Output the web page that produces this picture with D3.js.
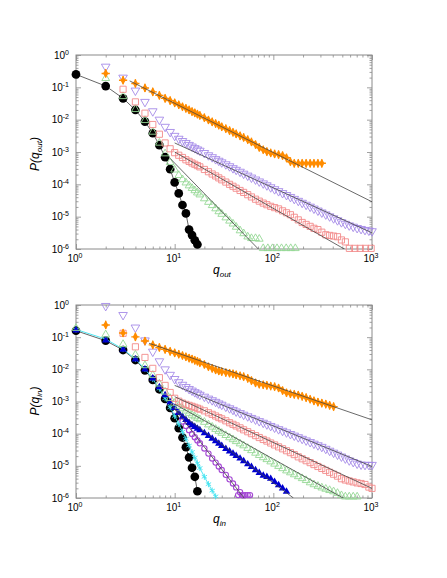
<!DOCTYPE html>
<html><head><meta charset="utf-8">
<script src="https://cdn.jsdelivr.net/npm/d3@7"></script>
<style>body{margin:0;background:#fff}</style>
</head><body><svg id="c" width="447" height="578"></svg>
<script>
// ---- shared degree bins (q values) ----
const qBins = [1,2,3,4,5,6,7,8,9,10,11,12,13,14,15,16,17,18,20,22,24,26,28,30,33,36,39,42,46,50,55,60,66,72,79,86,94,103,113,124,136,149,163,179,196,215,236,258,283,310,340,372,408,447,490,537,588,645,707,775,849,930,1000];
const xTickExps = [0,1,2,3];
const yTickExps = [0,-1,-2,-3,-4,-5,-6];

// ---- TOP panel: P(q_out), values are log10 P, starting at q0 ----
const outBlackQ0 = 1;
const outBlackLogP = [-0.60,-0.96,-1.34,-1.70,-2.06,-2.42,-2.79,-3.16,-3.53,-3.94,-4.28,-4.64,-4.90,-5.40,-5.57,-5.73,-5.86];
const outGreenQ0 = 2;
const outGreenLogP = [-0.72,-1.28,-1.68,-2.02,-2.38,-2.72,-3.05,-3.32,-3.55,-3.72,-3.85,-3.95,-4.04,-4.12,-4.19,-4.26,-4.32,-4.44,-4.55,-4.65,-4.75,-4.84,-4.92,-5.03,-5.13,-5.22,-5.32,-5.43,-5.52,-5.62,-5.67,-5.67,-5.69];
const outGreenTailQ = [79,88,98,109,121,135,150,167];
const outGreenTailLogP = [-5.98,-5.98,-5.98,-5.98,-5.98,-5.98,-5.98,-5.98];
const outRedQ0 = 3;
const outRedLogP = [-1.06,-1.45,-1.80,-2.15,-2.45,-2.72,-2.90,-3.02,-3.10,-3.17,-3.24,-3.29,-3.34,-3.38,-3.42,-3.46,-3.54,-3.61,-3.68,-3.74,-3.80,-3.86,-3.93,-4.00,-4.06,-4.12,-4.19,-4.25,-4.32,-4.39,-4.46,-4.52,-4.58,-4.63,-4.68,-4.72,-4.76,-4.82,-4.88,-4.94,-5.02,-5.10,-5.18,-5.24,-5.30,-5.36,-5.40,-5.48,-5.56,-5.58,-5.60,-5.62,-5.72,-5.78];
const outRedTailQ = [590,670,760,860,980];
const outRedTailLogP = [-5.98,-5.98,-5.98,-5.98,-5.98];
const outPurpleQ0 = 2;
const outPurpleLogP = [-0.36,-0.70,-1.10,-1.45,-1.74,-2.00,-2.22,-2.38,-2.50,-2.59,-2.66,-2.72,-2.78,-2.83,-2.88,-2.92,-2.96,-3.03,-3.10,-3.16,-3.22,-3.27,-3.32,-3.38,-3.44,-3.50,-3.55,-3.61,-3.67,-3.73,-3.79,-3.85,-3.91,-3.97,-4.03,-4.09,-4.15,-4.21,-4.27,-4.33,-4.39,-4.45,-4.51,-4.57,-4.63,-4.69,-4.75,-4.81,-4.87,-4.93,-4.99,-5.05,-5.11,-5.17,-5.22,-5.27,-5.31,-5.35,-5.38,-5.41,-5.43,-5.45];
const outOrangeQ0 = 2;
const outOrangeLogP = [-0.57,-0.78,-0.88,-1.02,-1.14,-1.25,-1.34,-1.41,-1.48,-1.54,-1.60,-1.65,-1.70,-1.75,-1.79,-1.83,-1.87,-1.94,-2.01,-2.07,-2.12,-2.17,-2.22,-2.28,-2.34,-2.39,-2.44,-2.50,-2.55,-2.62,-2.69,-2.77,-2.86,-2.93,-2.99,-3.03,-3.06,-3.08,-3.11,-3.18,-3.30,-3.35,-3.35,-3.35,-3.35,-3.35,-3.35,-3.35,-3.35];
// fitted power-law lines (endpoints: q, log10 P)
const outFits = [
  [[3.5,-0.80],[1000,-4.54]],
  [[10,-2.72],[1000,-5.50]],
  [[10,-3.00],[560,-6.05]],
  [[9,-3.20],[72,-6.03]]
];

// ---- BOTTOM panel: P(q_in) ----
const inBlackQ0 = 1;
const inBlackLogP = [-0.80,-1.11,-1.40,-1.71,-2.03,-2.33,-2.62,-2.92,-3.20,-3.52,-3.83,-4.12,-4.42,-4.74,-5.06,-5.34,-5.79];
const inCyanQ0 = 1;
const inCyanLogP = [-0.76,-1.06,-1.37,-1.68,-1.99,-2.30,-2.60,-2.90,-3.18,-3.45,-3.70,-3.94,-4.16,-4.37,-4.57,-4.75,-4.92,-5.07,-5.34,-5.57,-5.77,-5.95];
const inPurpleCircQ0 = 1;
const inPurpleCircLogP = [-0.79,-1.10,-1.40,-1.70,-2.01,-2.30,-2.59,-2.86,-3.10,-3.30,-3.47,-3.62,-3.76,-3.89,-4.01,-4.11,-4.21,-4.30,-4.46,-4.62,-4.77,-4.90,-5.02,-5.13,-5.28,-5.42,-5.55,-5.67,-5.82,-5.92];
const inPurpleCircTailQ = [44,48,52,55,58];
const inPurpleCircTailLogP = [-5.91,-5.91,-5.91,-5.91,-5.91];
const inBlueQ0 = 1;
const inBlueLogP = [-0.79,-1.10,-1.39,-1.69,-2.00,-2.28,-2.55,-2.80,-3.02,-3.20,-3.35,-3.47,-3.57,-3.66,-3.73,-3.79,-3.84,-3.89,-3.98,-4.07,-4.15,-4.23,-4.31,-4.38,-4.47,-4.55,-4.62,-4.69,-4.77,-4.85,-4.95,-5.03,-5.13,-5.22,-5.30,-5.34,-5.40,-5.50,-5.60,-5.70,-5.80];
const inGreenQ0 = 1;
const inGreenLogP = [-0.72,-0.92,-1.22,-1.55,-1.88,-2.18,-2.45,-2.70,-2.90,-3.05,-3.14,-3.22,-3.29,-3.36,-3.42,-3.47,-3.52,-3.56,-3.64,-3.72,-3.79,-3.86,-3.92,-3.98,-4.05,-4.12,-4.18,-4.24,-4.31,-4.37,-4.45,-4.52,-4.60,-4.67,-4.74,-4.80,-4.87,-4.94,-5.01,-5.08,-5.15,-5.21,-5.27,-5.33,-5.39,-5.45,-5.52,-5.58,-5.63,-5.68,-5.72,-5.76,-5.80,-5.85,-5.92,-5.96,-5.96,-5.96,-5.96];
const inRedQ0 = 3;
const inRedLogP = [-0.88,-1.30,-1.63,-1.97,-2.26,-2.50,-2.72,-2.90,-2.99,-3.05,-3.09,-3.12,-3.15,-3.18,-3.21,-3.24,-3.29,-3.35,-3.40,-3.45,-3.50,-3.54,-3.60,-3.66,-3.71,-3.76,-3.82,-3.88,-3.94,-4.00,-4.06,-4.12,-4.18,-4.23,-4.29,-4.35,-4.41,-4.47,-4.53,-4.59,-4.65,-4.72,-4.78,-4.84,-4.90,-4.96,-5.02,-5.08,-5.14,-5.20,-5.26,-5.32,-5.40,-5.44,-5.47,-5.50,-5.53,-5.55,-5.58,-5.66,-5.70];
const inPurpleQ0 = 2;
const inPurpleLogP = [-0.03,-0.31,-0.70,-1.10,-1.45,-1.75,-2.00,-2.17,-2.30,-2.40,-2.48,-2.55,-2.61,-2.66,-2.71,-2.75,-2.79,-2.85,-2.91,-2.96,-3.01,-3.06,-3.10,-3.16,-3.21,-3.26,-3.31,-3.36,-3.41,-3.46,-3.51,-3.56,-3.61,-3.66,-3.71,-3.76,-3.81,-3.86,-3.91,-3.96,-4.01,-4.06,-4.11,-4.16,-4.21,-4.26,-4.31,-4.36,-4.41,-4.47,-4.53,-4.59,-4.65,-4.71,-4.77,-4.83,-4.88,-4.93,-4.96,-4.97,-4.97,-4.97];
const inOrangeQ0 = 2;
const inOrangeLogP = [-0.62,-0.87,-0.99,-1.12,-1.24,-1.32,-1.38,-1.44,-1.49,-1.53,-1.57,-1.61,-1.65,-1.68,-1.72,-1.75,-1.79,-1.85,-1.92,-1.97,-2.02,-2.05,-2.07,-2.10,-2.12,-2.14,-2.17,-2.20,-2.23,-2.28,-2.35,-2.42,-2.46,-2.48,-2.50,-2.52,-2.54,-2.58,-2.66,-2.73,-2.76,-2.78,-2.80,-2.84,-2.88,-2.93,-2.98,-3.02,-3.05,-3.08,-3.12,-3.16];
const inFits = [
  [[5.5,-1.19],[1000,-3.57]],
  [[10,-2.50],[1000,-5.02]],
  [[10,-2.85],[1000,-5.70]],
  [[10,-3.08],[560,-6.07]],
  [[10,-3.24],[160,-6.00]],
  [[9,-3.05],[52,-6.05]]
];

// ---- colours ----
const C = {black:"#000", green:"#95d895", red:"#f38a8a", purple:"#a58ae8", orange:"#ff8c00",
           cyan:"#3fe3f0", blue:"#0000d0", orchid:"#a448d4", fit:"#444", frame:"#8a8a8a"};

function pts(q0, logs){ const i = qBins.indexOf(q0); return logs.map((v,k)=>({q:qBins[i+k], p:Math.pow(10,v)})); }
function ptsXY(qs, logs){ return qs.map((q,k)=>({q, p:Math.pow(10,logs[k])})); }

const svg = d3.select("#c");
svg.append("rect").attr("width",447).attr("height",578).attr("fill","#fff");

const X0 = 76, X1 = 372;
const x = d3.scaleLog().domain([1,1000]).range([X0,X1]);

function drawPanel(y0, y1, sub, layers, fits, labelY){
  const y = d3.scaleLog().domain([1e-6,1]).range([y1,y0]);
  const g = svg.append("g");
  const id = "clip"+sub;
  svg.append("clipPath").attr("id",id).append("rect").attr("x",X0).attr("y",y0).attr("width",X1-X0).attr("height",y1-y0);

  // axes with inward ticks on all four sides
  const xMaj = xTickExps.map(e=>Math.pow(10,e));
  const xMin = []; for(let e=0;e<3;e++) for(let k=2;k<=9;k++) xMin.push(k*Math.pow(10,e));
  const yMaj = yTickExps.map(e=>Math.pow(10,e));
  const yMin = []; for(let e=-6;e<0;e++) for(let k=2;k<=9;k++) yMin.push(k*Math.pow(10,e));
  const ax = [
    [d3.axisBottom(x).tickValues(xMaj).tickSize(-5), `translate(0,${y1})`],
    [d3.axisBottom(x).tickValues(xMin).tickSize(-2.5), `translate(0,${y1})`],
    [d3.axisTop(x).tickValues(xMaj).tickSize(-5), `translate(0,${y0})`],
    [d3.axisTop(x).tickValues(xMin).tickSize(-2.5), `translate(0,${y0})`],
    [d3.axisLeft(y).tickValues(yMaj).tickSize(-5), `translate(${X0},0)`],
    [d3.axisLeft(y).tickValues(yMin).tickSize(-2.5), `translate(${X0},0)`],
    [d3.axisRight(y).tickValues(yMaj).tickSize(-5), `translate(${X1},0)`],
    [d3.axisRight(y).tickValues(yMin).tickSize(-2.5), `translate(${X1},0)`]
  ];
  ax.forEach(([a,t])=>{
    const s = g.append("g").attr("transform",t).call(a.tickFormat(()=>""));
    s.select(".domain").remove();
    s.selectAll("line").attr("stroke",C.frame).attr("stroke-width",0.8);
    s.selectAll("text").remove();
  });
  g.append("rect").attr("x",X0).attr("y",y0).attr("width",X1-X0).attr("height",y1-y0)
    .attr("fill","none").attr("stroke",C.frame).attr("stroke-width",1);

  // tick labels 10^e
  const font = "'Liberation Sans', Arial, sans-serif";
  xTickExps.forEach(e=>{
    const t = g.append("text").attr("x",x(Math.pow(10,e))-1).attr("y",y1+13)
      .attr("text-anchor","middle").attr("font-family",font).attr("font-size",10).attr("fill","#000");
    t.append("tspan").text("10");
    t.append("tspan").attr("dy",-4).attr("font-size",7).text(String(e));
  });
  yTickExps.forEach(e=>{
    const t = g.append("text").attr("x",69).attr("y",y(Math.pow(10,e))+3.5)
      .attr("text-anchor","end").attr("font-family",font).attr("font-size",10).attr("fill","#000");
    t.append("tspan").text("10");
    t.append("tspan").attr("dy",-4).attr("font-size",7).text(e===0?"0":"-"+(-e));
  });
  // axis titles
  const xl = g.append("text").attr("x",213).attr("y",y1+25).attr("font-family",font)
    .attr("font-size",12).attr("font-style","italic");
  xl.append("tspan").text("q");
  xl.append("tspan").attr("dy",3).attr("font-size",8).text(sub);
  const yl = g.append("text").attr("transform",`translate(39,${labelY}) rotate(-90)`)
    .attr("text-anchor","middle").attr("font-family",font).attr("font-size",12).attr("font-style","italic");
  yl.append("tspan").text("P(q");
  yl.append("tspan").attr("dy",3).attr("font-size",8).text(sub);
  yl.append("tspan").attr("dy",-3).text(")");

  const line = d3.line().x(d=>x(d.q)).y(d=>y(d.p));

  // data layers
  layers.forEach(L=>{
    const lg = g.append("g");
    if(L.line){
      lg.append("path").attr("d",line(L.data)).attr("fill","none")
        .attr("stroke",L.line).attr("stroke-width",0.9).attr("clip-path",`url(#${id})`);
    }
    const m = lg.selectAll("g").data(L.data).join("g")
      .attr("transform",d=>`translate(${x(d.q)},${y(d.p)})`);
    const col = L.color;
    if(L.type==="circleFill"){
      m.append("path").attr("d",d3.symbol(d3.symbolCircle,60)()).attr("fill",col);
    } else if(L.type==="triDown"){
      m.append("path").attr("d",d3.symbol(d3.symbolTriangle,32)()).attr("transform","rotate(180)")
        .attr("fill","none").attr("stroke",col).attr("stroke-width",0.9);
    } else if(L.type==="triUp"){
      m.append("path").attr("d",d3.symbol(d3.symbolTriangle,26)())
        .attr("fill","none").attr("stroke",col).attr("stroke-width",0.9);
    } else if(L.type==="triUpFill"){
      m.append("path").attr("d",d3.symbol(d3.symbolTriangle,24)()).attr("fill",col);
    } else if(L.type==="square"){
      m.append("path").attr("d",d3.symbol(d3.symbolSquare,38)())
        .attr("fill","none").attr("stroke",col).attr("stroke-width",0.9);
    } else if(L.type==="circleOpen"){
      m.append("path").attr("d",d3.symbol(d3.symbolCircle,22)())
        .attr("fill","none").attr("stroke",col).attr("stroke-width",1.1);
    } else if(L.type==="star"){
      m.append("path").attr("d",d3.symbol(d3.symbolAsterisk,26)())
        .attr("fill","none").attr("stroke",col).attr("stroke-width",0.9);
    } else if(L.type==="dplus"){
      m.append("path").attr("d",d3.symbol(d3.symbolDiamond,24)()).attr("fill",col);
      m.append("path").attr("d",d3.symbol(d3.symbolPlus,24)())
        .attr("fill","none").attr("stroke",col).attr("stroke-width",1.4);
    }
  });

  // fitted lines
  fits.forEach(f=>{
    const d = f.map(([q,lp])=>({q, p:Math.pow(10,lp)}));
    g.append("path").attr("d",line(d)).attr("fill","none").attr("stroke",C.fit)
      .attr("stroke-width",0.8).attr("clip-path",`url(#${id})`);
  });
}

drawPanel(55, 249, "out", [
  {type:"circleFill", color:C.black, line:"#555", data:pts(outBlackQ0,outBlackLogP)},
  {type:"triUp", color:C.green, data:pts(outGreenQ0,outGreenLogP).concat(ptsXY(outGreenTailQ,outGreenTailLogP))},
  {type:"square", color:C.red, data:pts(outRedQ0,outRedLogP).concat(ptsXY(outRedTailQ,outRedTailLogP))},
  {type:"triDown", color:C.purple, data:pts(outPurpleQ0,outPurpleLogP)},
  {type:"dplus", color:C.orange, data:pts(outOrangeQ0,outOrangeLogP)}
], outFits, 154);

drawPanel(305, 498, "in", [
  {type:"circleOpen", color:C.orchid, data:pts(inPurpleCircQ0,inPurpleCircLogP).concat(ptsXY(inPurpleCircTailQ,inPurpleCircTailLogP))},
  {type:"circleFill", color:C.black, line:"#555", data:pts(inBlackQ0,inBlackLogP)},
  {type:"star", color:C.cyan, line:C.cyan, data:pts(inCyanQ0,inCyanLogP)},
  {type:"triUpFill", color:C.blue, data:pts(inBlueQ0,inBlueLogP)},
  {type:"triUp", color:C.green, data:pts(inGreenQ0,inGreenLogP)},
  {type:"square", color:C.red, data:pts(inRedQ0,inRedLogP)},
  {type:"triDown", color:C.purple, data:pts(inPurpleQ0,inPurpleLogP)},
  {type:"dplus", color:C.orange, data:pts(inOrangeQ0,inOrangeLogP)}
], inFits, 401);
</script></body></html>
